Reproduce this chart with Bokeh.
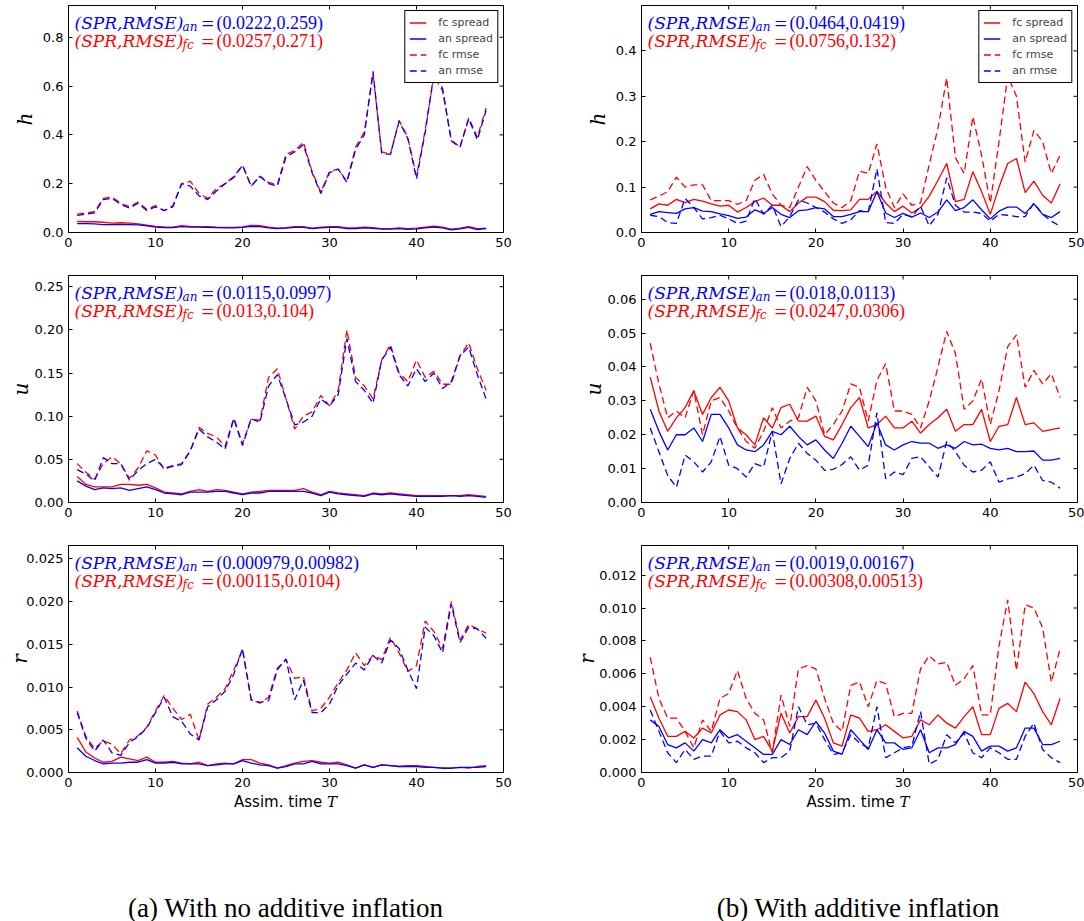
import math
from bokeh.plotting import figure
from bokeh.models import (Range1d, FixedTicker, PrintfTickFormatter,
                          Label, Legend, LegendItem, Div)
from bokeh.layouts import row, column
from bokeh.embed import file_html
from bokeh.resources import INLINE

# ---------------- data ----------------
T = list(range(1, 49))

a_h_fc_spread = [0.045,0.044,0.044,0.042,0.038,0.040,0.038,0.035,0.030,0.025,
                 0.023,0.022,0.028,0.025,0.024,0.024,0.022,0.021,0.021,0.023,
                 0.029,0.028,0.022,0.018,0.020,0.024,0.024,0.018,0.022,0.024,
                 0.024,0.019,0.019,0.022,0.020,0.016,0.016,0.019,0.016,0.018,
                 0.022,0.026,0.022,0.014,0.018,0.024,0.016,0.018]
a_h_an_spread = [0.036,0.036,0.035,0.032,0.032,0.032,0.032,0.031,0.027,0.022,
                 0.020,0.020,0.024,0.022,0.022,0.021,0.020,0.019,0.019,0.021,
                 0.025,0.024,0.019,0.016,0.018,0.021,0.021,0.016,0.019,0.021,
                 0.021,0.016,0.016,0.019,0.017,0.014,0.014,0.016,0.013,0.015,
                 0.019,0.022,0.019,0.011,0.015,0.021,0.012,0.016]
a_h_fc_rmse = [0.075,0.08,0.085,0.14,0.145,0.12,0.105,0.125,0.095,0.11,
               0.09,0.11,0.2,0.21,0.16,0.14,0.18,0.2,0.23,0.275,
               0.19,0.23,0.205,0.195,0.32,0.335,0.37,0.25,0.165,0.25,
               0.26,0.21,0.35,0.41,0.65,0.33,0.32,0.46,0.39,0.23,
               0.42,0.64,0.58,0.38,0.35,0.47,0.39,0.51]
a_h_an_rmse = [0.07,0.075,0.08,0.135,0.14,0.115,0.1,0.12,0.09,0.105,
               0.09,0.105,0.2,0.19,0.15,0.135,0.17,0.2,0.225,0.275,
               0.19,0.23,0.2,0.19,0.31,0.33,0.36,0.245,0.16,0.245,
               0.26,0.205,0.34,0.4,0.66,0.325,0.32,0.455,0.385,0.22,
               0.41,0.65,0.59,0.375,0.35,0.465,0.38,0.5]

b_h_fc_spread = [0.052,0.063,0.06,0.073,0.066,0.073,0.069,0.063,0.058,0.06,
                 0.045,0.055,0.068,0.076,0.06,0.06,0.046,0.065,0.078,0.078,
                 0.068,0.049,0.048,0.05,0.073,0.073,0.091,0.065,0.046,0.058,
                 0.043,0.055,0.08,0.115,0.152,0.068,0.073,0.134,0.09,0.04,
                 0.1,0.152,0.163,0.088,0.113,0.082,0.065,0.107]
b_h_an_spread = [0.04,0.046,0.044,0.042,0.052,0.055,0.047,0.046,0.041,0.037,
                 0.031,0.034,0.05,0.042,0.055,0.04,0.033,0.048,0.05,0.055,
                 0.052,0.035,0.035,0.04,0.046,0.046,0.09,0.043,0.033,0.042,
                 0.034,0.043,0.033,0.045,0.072,0.048,0.055,0.072,0.05,0.03,
                 0.047,0.056,0.056,0.042,0.063,0.04,0.033,0.046]
b_h_fc_rmse = [0.072,0.08,0.09,0.122,0.1,0.105,0.105,0.07,0.07,0.07,
               0.062,0.07,0.115,0.128,0.085,0.06,0.055,0.1,0.145,0.115,
               0.09,0.065,0.055,0.07,0.135,0.13,0.195,0.1,0.055,0.085,
               0.06,0.065,0.15,0.23,0.34,0.165,0.13,0.255,0.17,0.065,
               0.2,0.345,0.3,0.155,0.225,0.2,0.13,0.17]
b_h_an_rmse = [0.038,0.035,0.022,0.02,0.075,0.055,0.03,0.033,0.038,0.03,
               0.02,0.025,0.075,0.04,0.06,0.013,0.035,0.072,0.065,0.055,
               0.045,0.03,0.02,0.028,0.048,0.045,0.14,0.022,0.02,0.04,
               0.035,0.058,0.015,0.04,0.12,0.06,0.045,0.045,0.042,0.025,
               0.04,0.038,0.035,0.035,0.065,0.04,0.025,0.014]

a_u_fc_spread = [0.03,0.021,0.018,0.018,0.018,0.021,0.021,0.02,0.021,0.017,
                 0.012,0.011,0.01,0.013,0.015,0.013,0.015,0.014,0.012,0.01,
                 0.012,0.013,0.014,0.014,0.014,0.014,0.016,0.012,0.009,0.013,
                 0.011,0.01,0.009,0.008,0.011,0.01,0.011,0.01,0.009,0.008,
                 0.008,0.008,0.008,0.008,0.008,0.009,0.008,0.007]
a_u_an_spread = [0.025,0.019,0.015,0.017,0.016,0.017,0.014,0.016,0.018,0.015,
                 0.011,0.01,0.009,0.012,0.012,0.012,0.013,0.013,0.011,0.009,
                 0.011,0.011,0.013,0.013,0.013,0.013,0.013,0.011,0.008,0.012,
                 0.01,0.009,0.008,0.007,0.01,0.009,0.01,0.009,0.008,0.007,
                 0.007,0.007,0.007,0.008,0.007,0.008,0.007,0.006]
a_u_fc_rmse = [0.045,0.035,0.027,0.045,0.053,0.045,0.028,0.04,0.06,0.055,
               0.038,0.043,0.045,0.06,0.087,0.08,0.076,0.065,0.098,0.068,
               0.097,0.095,0.145,0.155,0.12,0.085,0.1,0.105,0.124,0.112,
               0.13,0.2,0.145,0.135,0.12,0.165,0.183,0.15,0.14,0.165,
               0.145,0.152,0.137,0.137,0.17,0.185,0.155,0.13]
a_u_an_rmse = [0.038,0.033,0.025,0.052,0.045,0.045,0.026,0.037,0.045,0.05,
               0.04,0.042,0.044,0.06,0.085,0.076,0.07,0.062,0.097,0.066,
               0.097,0.093,0.135,0.148,0.12,0.09,0.093,0.1,0.12,0.112,
               0.125,0.19,0.14,0.13,0.115,0.165,0.18,0.148,0.135,0.155,
               0.14,0.15,0.132,0.14,0.17,0.18,0.148,0.12]

b_u_fc_spread = [0.037,0.027,0.021,0.025,0.028,0.033,0.026,0.031,0.034,0.03,
                 0.022,0.02,0.017,0.025,0.022,0.028,0.029,0.024,0.024,0.0255,
                 0.0195,0.0185,0.023,0.028,0.031,0.022,0.023,0.0255,0.022,0.022,
                 0.024,0.0205,0.023,0.025,0.0275,0.021,0.023,0.023,0.0275,0.018,
                 0.0225,0.023,0.031,0.023,0.0235,0.021,0.0215,0.022]
b_u_an_spread = [0.0275,0.021,0.0155,0.02,0.02,0.022,0.018,0.026,0.026,0.022,
                 0.017,0.0155,0.015,0.017,0.021,0.02,0.0225,0.0195,0.017,0.0185,
                 0.0155,0.013,0.0175,0.0225,0.0195,0.0165,0.0235,0.017,0.0155,0.017,
                 0.018,0.0175,0.0175,0.016,0.017,0.016,0.018,0.017,0.0172,0.016,
                 0.0155,0.016,0.015,0.015,0.0152,0.0125,0.0125,0.013]
b_u_fc_rmse = [0.047,0.035,0.025,0.027,0.025,0.033,0.02,0.03,0.031,0.027,
               0.022,0.018,0.016,0.021,0.028,0.022,0.024,0.025,0.034,0.03,
               0.02,0.023,0.027,0.035,0.034,0.024,0.036,0.041,0.027,0.027,
               0.026,0.022,0.03,0.04,0.0505,0.044,0.0275,0.03,0.0365,0.023,
               0.033,0.046,0.0495,0.034,0.039,0.035,0.038,0.031]
b_u_an_rmse = [0.022,0.015,0.008,0.0045,0.014,0.012,0.009,0.012,0.0195,0.011,
               0.01,0.0075,0.0115,0.0105,0.021,0.0055,0.013,0.0175,0.0145,0.0125,
               0.0095,0.0098,0.0112,0.0135,0.0095,0.011,0.0265,0.007,0.009,0.0082,
               0.013,0.0135,0.0105,0.0075,0.018,0.015,0.011,0.009,0.0095,0.012,
               0.006,0.007,0.0075,0.0085,0.011,0.0065,0.006,0.0042]

a_r_fc_spread = [0.0041,0.0024,0.0017,0.0012,0.0013,0.0018,0.0016,0.0014,0.0018,0.0012,
                 0.0012,0.0013,0.0011,0.001,0.0012,0.0008,0.001,0.0011,0.001,0.0015,
                 0.0015,0.0011,0.0009,0.0005,0.0008,0.0011,0.0013,0.0014,0.0012,0.0011,
                 0.0012,0.0009,0.0005,0.0009,0.0006,0.0009,0.0008,0.0007,0.0008,0.0008,
                 0.0007,0.0006,0.0005,0.0005,0.0006,0.0005,0.0007,0.0008]
a_r_an_spread = [0.0029,0.0019,0.0014,0.001,0.0011,0.0011,0.0012,0.0012,0.0015,0.0011,
                 0.0011,0.0012,0.001,0.001,0.001,0.0008,0.0009,0.001,0.001,0.0014,
                 0.0011,0.0009,0.0008,0.0005,0.0007,0.001,0.001,0.0013,0.001,0.001,
                 0.001,0.0008,0.0005,0.0009,0.0006,0.0009,0.0008,0.0007,0.0007,0.0007,
                 0.0006,0.0006,0.0005,0.0005,0.0006,0.0006,0.0006,0.0007]
a_r_fc_rmse = [0.0072,0.0042,0.0028,0.0037,0.0033,0.0022,0.0038,0.0043,0.0053,0.0072,
               0.009,0.0075,0.0062,0.0068,0.0038,0.008,0.0088,0.0098,0.012,0.0143,
               0.0085,0.0081,0.0088,0.0122,0.0132,0.011,0.0112,0.0072,0.0075,0.0088,
               0.0105,0.012,0.014,0.0125,0.0137,0.0132,0.0158,0.014,0.0118,0.0125,
               0.0177,0.0165,0.0145,0.02,0.0155,0.0173,0.0168,0.0163]
a_r_an_rmse = [0.007,0.004,0.0025,0.0038,0.0023,0.002,0.0035,0.0042,0.0052,0.007,
               0.0088,0.0065,0.006,0.0045,0.0038,0.0077,0.0085,0.0095,0.0115,0.0145,
               0.0085,0.0082,0.0084,0.012,0.0133,0.0085,0.0108,0.007,0.007,0.008,
               0.0102,0.0115,0.0128,0.012,0.0137,0.0128,0.0155,0.0145,0.012,0.0098,
               0.017,0.016,0.014,0.0197,0.0152,0.017,0.0168,0.0157]

b_r_fc_spread = [0.0046,0.0033,0.0022,0.0022,0.0025,0.0021,0.0027,0.0024,0.0035,0.0038,
                 0.0037,0.0032,0.002,0.0022,0.0013,0.0036,0.0024,0.0034,0.0034,0.0044,
                 0.0033,0.0018,0.0016,0.0035,0.0033,0.0025,0.0026,0.0029,0.0025,0.0021,
                 0.0022,0.0032,0.0029,0.0035,0.003,0.0027,0.0034,0.004,0.0023,0.0023,
                 0.0039,0.0042,0.0037,0.0055,0.0048,0.0037,0.0029,0.0045]
b_r_an_spread = [0.0032,0.0028,0.0017,0.0015,0.0018,0.0013,0.002,0.0018,0.0026,0.0021,
                 0.0023,0.0019,0.0015,0.0011,0.0011,0.002,0.0017,0.0026,0.0023,0.0031,
                 0.0024,0.0013,0.0011,0.0026,0.002,0.0014,0.0026,0.0018,0.0018,0.0014,
                 0.0015,0.0026,0.0012,0.0015,0.0015,0.0017,0.0025,0.0022,0.0013,0.0016,
                 0.0016,0.0013,0.0015,0.0027,0.0027,0.0017,0.0017,0.0019]
b_r_fc_rmse = [0.007,0.0045,0.0033,0.0033,0.0025,0.0015,0.0032,0.0025,0.0045,0.0048,
               0.0062,0.0045,0.0036,0.0032,0.0012,0.0047,0.0028,0.0063,0.0065,0.0063,
               0.0045,0.003,0.0025,0.0053,0.0055,0.004,0.0056,0.0054,0.0034,0.0036,
               0.0036,0.0063,0.0071,0.0066,0.0067,0.0053,0.0057,0.0065,0.0035,0.0035,
               0.0077,0.0105,0.0062,0.0102,0.01,0.0088,0.0055,0.0075]
b_r_an_rmse = [0.0038,0.0025,0.0012,0.0006,0.0014,0.0008,0.001,0.001,0.0025,0.0018,
               0.0019,0.0015,0.0012,0.0006,0.0009,0.0009,0.0013,0.004,0.0029,0.003,
               0.002,0.0011,0.0012,0.0023,0.0018,0.0015,0.004,0.0009,0.0012,0.0015,
               0.0016,0.0037,0.0005,0.0008,0.0023,0.0018,0.0024,0.0012,0.0009,0.0015,
               0.0012,0.0008,0.0008,0.0022,0.003,0.0014,0.0009,0.0006]

x_ticks = [0, 10, 20, 30, 40, 50]
series_names = ["fc spread", "an spread", "fc rmse", "an rmse"]
captions = ["(a) With no additive inflation", "(b) With additive inflation"]
x_label = "Assim. time"
x_label_var = "T"

panels = [
    dict(var="h", ymax=0.93, ticks=[0, 0.2, 0.4, 0.6, 0.8], fmt="%.1f",
         data=[a_h_fc_spread, a_h_an_spread, a_h_fc_rmse, a_h_an_rmse],
         an_stats="(0.0222,0.259)", fc_stats="(0.0257,0.271)"),
    dict(var="h", ymax=0.5, ticks=[0, 0.1, 0.2, 0.3, 0.4], fmt="%.1f",
         data=[b_h_fc_spread, b_h_an_spread, b_h_fc_rmse, b_h_an_rmse],
         an_stats="(0.0464,0.0419)", fc_stats="(0.0756,0.132)"),
    dict(var="u", ymax=0.263, ticks=[0, 0.05, 0.10, 0.15, 0.20, 0.25], fmt="%.2f",
         data=[a_u_fc_spread, a_u_an_spread, a_u_fc_rmse, a_u_an_rmse],
         an_stats="(0.0115,0.0997)", fc_stats="(0.013,0.104)"),
    dict(var="u", ymax=0.067, ticks=[0, 0.01, 0.02, 0.03, 0.04, 0.05, 0.06], fmt="%.2f",
         data=[b_u_fc_spread, b_u_an_spread, b_u_fc_rmse, b_u_an_rmse],
         an_stats="(0.018,0.0113)", fc_stats="(0.0247,0.0306)"),
    dict(var="r", ymax=0.02655, ticks=[0, 0.005, 0.010, 0.015, 0.020, 0.025], fmt="%.3f",
         data=[a_r_fc_spread, a_r_an_spread, a_r_fc_rmse, a_r_an_rmse],
         an_stats="(0.000979,0.00982)", fc_stats="(0.00115,0.0104)"),
    dict(var="r", ymax=0.0138, ticks=[0, 0.002, 0.004, 0.006, 0.008, 0.010, 0.012], fmt="%.3f",
         data=[b_r_fc_spread, b_r_an_spread, b_r_fc_rmse, b_r_an_rmse],
         an_stats="(0.0019,0.00167)", fc_stats="(0.00308,0.00513)"),
]
for pn in panels:
    for s in pn["data"]:
        assert len(s) == len(T), len(s)

# ---------------- styling ----------------
RED = "#ff0000"
BLUE = "#0000ff"
colors = [RED, BLUE, RED, BLUE]
dashes = ["solid", "solid", "7 4", "7 4"]
FH = 227
FW = [435, 436]
BL = [68, 126]
BR = [12, 7]
LABEL_STANDOFF = [3, 3, -1, -1, -9, -3]


def style_axis(ax):
    ax.major_tick_in = 4
    ax.major_tick_out = 0
    ax.minor_tick_line_color = None
    ax.axis_line_color = "black"
    ax.major_tick_line_color = "black"
    ax.major_label_text_font = "DejaVu Sans"
    ax.major_label_text_font_size = "13px"
    ax.major_label_text_color = "black"
    ax.major_label_standoff = 5


def make_panel(i, pn):
    col = i % 2
    rowi = i // 2
    fw = FW[col]
    ymax = pn["ymax"]
    bottom = 22 if rowi == 2 else 38
    p = figure(frame_width=fw, frame_height=FH,
               min_border_left=BL[col], min_border_right=BR[col],
               min_border_top=5, min_border_bottom=bottom,
               x_range=Range1d(0, 50), y_range=Range1d(0, ymax),
               output_backend="svg", toolbar_location=None, tools="")
    p.grid.visible = False
    p.outline_line_color = "black"
    p.outline_line_alpha = 1
    p.outline_line_width = 1
    p.background_fill_color = "white"
    p.border_fill_color = "white"

    p.xaxis.ticker = FixedTicker(ticks=x_ticks)
    p.yaxis.ticker = FixedTicker(ticks=pn["ticks"])
    p.yaxis.formatter = PrintfTickFormatter(format=pn["fmt"])
    style_axis(p.xaxis[0])
    style_axis(p.yaxis[0])
    p.yaxis.axis_label = pn["var"]
    p.yaxis.axis_label_text_font = "DejaVu Serif"
    p.yaxis.axis_label_text_font_style = "italic"
    p.yaxis.axis_label_text_font_size = "20px"
    p.yaxis.axis_label_standoff = LABEL_STANDOFF[i]
    p.yaxis.axis_label_text_color = "black"

    # mirrored inward ticks on the top and right edges (half of each dash is clipped)
    p.scatter(x_ticks, [ymax] * len(x_ticks), marker="dash", size=8,
              angle=math.pi / 2, line_color="black", line_width=1)
    p.scatter([50] * len(pn["ticks"]), pn["ticks"], marker="dash", size=8,
              line_color="black", line_width=1)

    rends = []
    for k in range(4):
        r = p.line(T, pn["data"][k], line_color=colors[k], line_width=1.3,
                   line_dash=dashes[k])
        rends.append(r)

    if rowi == 0:
        items = [LegendItem(label=series_names[k], renderers=[rends[k]]) for k in range(4)]
        leg = Legend(items=items, location="top_right",
                     label_text_font="DejaVu Sans", label_text_font_size="11px",
                     glyph_width=17, glyph_height=15, label_height=15,
                     label_standoff=12, padding=4, spacing=1, margin=5,
                     border_line_color="black", border_line_width=1,
                     border_line_alpha=1, background_fill_alpha=1)
        p.add_layout(leg)

    def X(px):
        return 50.0 * px / fw

    def Y(px):
        return ymax * (1.0 - px / FH)

    for line, (color, sub, stats) in enumerate([(BLUE, "an", pn["an_stats"]),
                                                 (RED, "fc", pn["fc_stats"])]):
        base = 17 + 18 * line
        x0 = 6
        p.add_layout(Label(x=X(x0), y=Y(base), text="(SPR,RMSE)",
                           text_font="DejaVu Serif", text_font_style="italic",
                           text_font_size="17px", text_color=color,
                           text_baseline="alphabetic"))
        p.add_layout(Label(x=X(x0 + 108), y=Y(base + 4), text=sub,
                           text_font="DejaVu Serif", text_font_style="italic",
                           text_font_size="12px", text_color=color,
                           text_baseline="alphabetic"))
        p.add_layout(Label(x=X(x0 + 127), y=Y(base + 1), text="=",
                           text_font="Liberation Serif",
                           text_font_size="22px", text_color=color,
                           text_baseline="alphabetic"))
        p.add_layout(Label(x=X(x0 + 142), y=Y(base), text=stats,
                           text_font="Liberation Serif",
                           text_font_size="18px", text_color=color,
                           text_baseline="alphabetic"))
    return p


figs = [make_panel(i, pn) for i, pn in enumerate(panels)]

xl_style = "font-family:'DejaVu Sans';font-size:15px;line-height:17px;color:black;white-space:nowrap;"
var_style = "font-family:'DejaVu Serif';font-style:italic;"
cap_style = ("font-family:'Liberation Serif';font-size:27px;color:black;"
             "margin-top:78px;white-space:nowrap;")


def bottom_div(caption, inner_width, left_pad, width):
    html = (f'<div style="width:{inner_width}px;margin-left:{left_pad}px;text-align:center;">'
            f'<div style="{xl_style}">{x_label} <span style="{var_style}">{x_label_var}</span></div>'
            f'<div style="{cap_style}">{caption}</div></div>')
    return Div(text=html, width=width, height=127, margin=0)


div_a = bottom_div(captions[0], 571, 0, 571)
div_b = bottom_div(captions[1], 452, 61, 513)

layout = column(row(figs[0], figs[1]), row(figs[2], figs[3]), row(figs[4], figs[5]),
                row(div_a, div_b))

html = file_html(layout, INLINE, title="spread rmse")
open("out.html", "w").write(html)
